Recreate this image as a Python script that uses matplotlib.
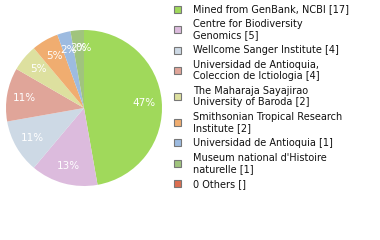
import matplotlib
matplotlib.use('Agg')
import matplotlib.pyplot as plt
from matplotlib.patches import Rectangle

labels = ['Mined from GenBank, NCBI [17]',
          'Centre for Biodiversity\nGenomics [5]',
          'Wellcome Sanger Institute [4]',
          'Universidad de Antioquia,\nColeccion de Ictiologia [4]',
          'The Maharaja Sayajirao\nUniversity of Baroda [2]',
          'Smithsonian Tropical Research\nInstitute [2]',
          'Universidad de Antioquia [1]',
          "Museum national d'Histoire\nnaturelle [1]",
          '0 Others []']
counts = [17, 5, 4, 4, 2, 2, 1, 1, 0]
colors = ['#a0d95b', '#dcbbdd', '#cdd9e5', '#e0a599', '#dde09f',
          '#f0ad70', '#9dbbe0', '#a0c47d', '#dc6e50']

W, H = 380, 240
fig = plt.figure(figsize=(W / 100, H / 100), dpi=100)

# pie centre (84,108) px, radius 78 px
cx, cy, r = 84, 108, 78
ax = fig.add_axes([(cx - r) / W, (H - cy - r) / H, 2 * r / W, 2 * r / H])
wedges, texts, autotexts = ax.pie(
    counts, colors=colors, startangle=90, counterclock=False,
    autopct=lambda p: f'{int(p)}%', pctdistance=0.77,
    wedgeprops=dict(linewidth=0),
    textprops=dict(color='white', fontsize=7.5))
ax.set_aspect('equal')
ax.set_xlim(-1, 1)
ax.set_ylim(-1, 1)

# legend drawn by hand
line_h, gap = 11, 3.9
y = 9.5
for lab, col in zip(labels, colors):
    n = lab.count('\n') + 1
    mid = y + (n - 1) * line_h / 2
    fig.patches.append(Rectangle((174 / W, 1 - (mid + 3.5) / H), 7 / W, 7 / H,
                                 transform=fig.transFigure, facecolor=col,
                                 edgecolor='#777777', linewidth=0.8))
    for i, part in enumerate(lab.split('\n')):
        fig.text(193 / W, 1 - (y + i * line_h) / H, part, fontsize=7,
                 va='center', ha='left', color='#111111')
    y += n * line_h + gap

fig.savefig('out.png', dpi=100)
